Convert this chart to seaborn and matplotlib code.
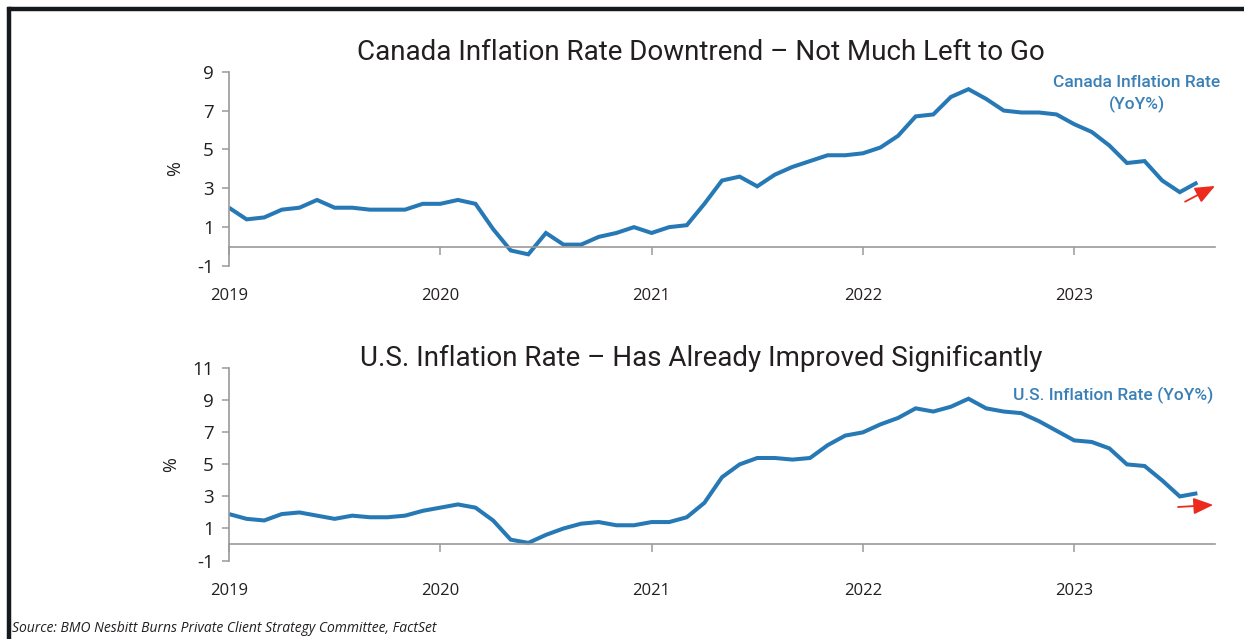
import matplotlib
matplotlib.use("Agg")
import matplotlib.pyplot as plt
import numpy as np
import pandas as pd
import seaborn as sns

# Monthly YoY inflation, Dec 2018 through Jul 2023 (month-end observations)
canada_cpi = [2.0,
              1.4, 1.5, 1.9, 2.0, 2.4, 2.0, 2.0, 1.9, 1.9, 1.9, 2.2, 2.2,
              2.4, 2.2, 0.9, -0.2, -0.4, 0.7, 0.1, 0.1, 0.5, 0.7, 1.0, 0.7,
              1.0, 1.1, 2.2, 3.4, 3.6, 3.1, 3.7, 4.1, 4.4, 4.7, 4.7, 4.8,
              5.1, 5.7, 6.7, 6.8, 7.7, 8.1, 7.6, 7.0, 6.9, 6.9, 6.8, 6.3,
              5.9, 5.2, 4.3, 4.4, 3.4, 2.8, 3.3]
us_cpi = [1.9,
          1.6, 1.5, 1.9, 2.0, 1.8, 1.6, 1.8, 1.7, 1.7, 1.8, 2.1, 2.3,
          2.5, 2.3, 1.5, 0.3, 0.1, 0.6, 1.0, 1.3, 1.4, 1.2, 1.2, 1.4,
          1.4, 1.7, 2.6, 4.2, 5.0, 5.4, 5.4, 5.3, 5.4, 6.2, 6.8, 7.0,
          7.5, 7.9, 8.5, 8.3, 8.6, 9.1, 8.5, 8.3, 8.2, 7.7, 7.1, 6.5,
          6.4, 6.0, 5.0, 4.9, 4.0, 3.0, 3.2]
year_labels = ["2019", "2020", "2021", "2022", "2023"]
canada_yticks = [-1, 1, 3, 5, 7, 9]
us_yticks = [-1, 1, 3, 5, 7, 9, 11]

months = np.arange(len(canada_cpi))  # 0 = end of Dec 2018
df = pd.DataFrame({"month": months, "canada": canada_cpi, "us": us_cpi})

sns.set_theme(style="white")
FONT = ["Open Sans", "DejaVu Sans"]
TITLE_FONT = ["Roboto", "Open Sans", "DejaVu Sans"]
plt.rcParams["font.family"] = FONT
plt.rcParams["axes.unicode_minus"] = False

LINE = "#2779b6"
LABEL_BLUE = "#3a80b7"
GRAY = "#9a9a9a"
TEXT = "#231f20"
RED = "#ec2a1e"

fig = plt.figure(figsize=(12.44, 6.39), dpi=100)

W, H = 1244, 639


def box(x0, y_top, x1, y_bot):
    return [x0 / W, 1 - y_bot / H, (x1 - x0) / W, (y_bot - y_top) / H]


ax1 = fig.add_axes(box(229, 71.7, 1215, 266))
ax2 = fig.add_axes(box(229, 368.3, 1215, 560.5))


def style_axis(ax, col, yticks, label_pad, title, title_y):
    sns.lineplot(data=df, x="month", y=col, ax=ax, color=LINE, linewidth=2.9,
                 solid_joinstyle="miter", solid_capstyle="butt")
    ax.set_xlim(0, 56)
    ax.set_ylim(yticks[0], yticks[-1])
    ax.set_yticks(yticks)
    ax.set_yticklabels([str(v) for v in yticks])
    ax.set_xticks([0, 12, 24, 36, 48])
    ax.set_xticklabels(year_labels)
    for s in ("top", "right"):
        ax.spines[s].set_visible(False)
    ax.spines["left"].set_color(GRAY)
    ax.spines["left"].set_linewidth(1.2)
    ax.spines["bottom"].set_position(("data", 0))
    ax.spines["bottom"].set_color(GRAY)
    ax.spines["bottom"].set_linewidth(1.2)
    ax.tick_params(axis="y", direction="out", length=5, width=1.1, color=GRAY,
                   labelsize=13.5, labelcolor=TEXT, pad=6, left=True)
    ax.tick_params(axis="x", direction="out", length=6, width=1.1, color=GRAY,
                   labelsize=12, labelcolor=TEXT, pad=label_pad, bottom=True)
    ax.set_xlabel("")
    ax.set_ylabel("%", fontsize=13, color=TEXT, labelpad=9)
    ax.patch.set_alpha(0)
    fig.text(0.5637, 1 - title_y / H, title, ha="center", va="center",
             fontsize=20, color=TEXT, family=TITLE_FONT)


style_axis(ax1, "canada", canada_yticks, 24,
           "Canada Inflation Rate Downtrend \u2013 Not Much Left to Go", 53)
style_axis(ax2, "us", us_yticks, 21.5,
           "U.S. Inflation Rate \u2013 Has Already Improved Significantly", 358)

fig.text(1137 / W, 1 - 94 / H, "Canada Inflation Rate\n(YoY%)", ha="center",
         va="center", fontsize=12.5, color=LABEL_BLUE, linespacing=1.4,
         family=TITLE_FONT, weight="medium")
fig.text(1113 / W, 1 - 395 / H, "U.S. Inflation Rate (YoY%)", ha="center",
         va="center", fontsize=12.5, color=LABEL_BLUE, family=TITLE_FONT,
         weight="medium")

arrow = dict(arrowstyle="-|>,head_length=1.2,head_width=0.5", color=RED,
             lw=1.3, mutation_scale=10, shrinkA=0, shrinkB=0)
ax1.annotate("", xy=(56.0, 3.12), xytext=(54.3, 2.31), arrowprops=arrow,
             annotation_clip=False)
ax2.annotate("", xy=(55.9, 2.47), xytext=(53.9, 2.34), arrowprops=arrow,
             annotation_clip=False)

fig.text(12 / W, 1 - 629 / H,
         "Source: BMO Nesbitt Burns Private Client Strategy Committee, FactSet",
         ha="left", va="center", fontsize=10, style="italic", color=TEXT)

# Frame lines along the top and left edges
fig.add_artist(plt.Line2D([9 / W, 1], [1 - 9 / H, 1 - 9 / H], color="#15181c",
                          lw=3.2, transform=fig.transFigure))
fig.add_artist(plt.Line2D([9 / W, 9 / W], [0, 1 - 9 / H], color="#15181c",
                          lw=3.2, transform=fig.transFigure,
                          solid_capstyle="projecting"))

fig.savefig("out.png", dpi=100, facecolor="white")
